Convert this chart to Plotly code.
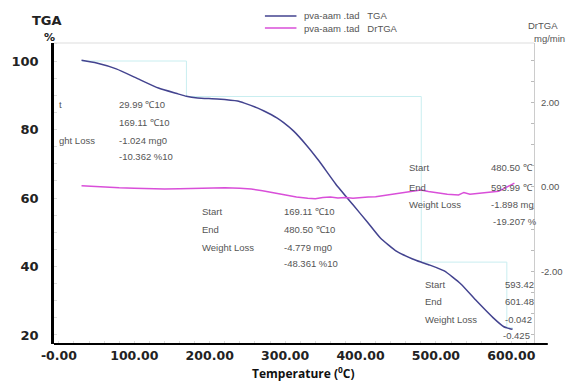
import plotly.graph_objects as go

# ---- data ----
tga_T = [30, 50, 76, 106, 132, 158, 169, 184, 210, 237, 246, 263, 272, 289, 298, 311, 328, 345,
         367, 390, 409, 426, 448, 469, 480, 492, 511, 533, 554, 576, 590, 594, 598, 601.5]
tga_V = [100.2, 99.4, 97.7, 94.7, 92.1, 90.4, 89.7, 89.2, 88.9, 88.3, 87.7, 86.3, 85.4, 83.4, 82.0,
         79.6, 75.5, 70.8, 64.1, 58.0, 53.0, 48.4, 44.4, 42.2, 41.3, 40.4, 38.7, 34.9, 29.9, 25.0,
         22.4, 22.07, 21.8, 21.65]

dr_T = [30, 45, 60, 80, 100, 120, 140, 160, 180, 200, 220, 240, 255, 270, 285, 300, 315, 330, 340,
        350, 360, 370, 380, 390, 400, 410, 420, 435, 450, 465, 480, 490, 500, 515, 530, 537, 545,
        555, 565, 575, 583, 590, 597, 604]
dr_V = [0.03, 0.01, -0.01, -0.02, -0.03, -0.04, -0.05, -0.04, -0.03, -0.02, -0.02, -0.03, -0.05,
        -0.09, -0.14, -0.19, -0.24, -0.27, -0.28, -0.25, -0.24, -0.26, -0.25, -0.27, -0.25, -0.24,
        -0.23, -0.19, -0.15, -0.10, -0.07, -0.11, -0.14, -0.17, -0.19, -0.13, -0.17, -0.15, -0.14,
        -0.12, -0.10, -0.04, 0.03, 0.09]

step_T = [29.99, 169.11, 480.50, 593.99, 601.48]
step_loss_pct = [10.362, 48.361, 19.207, 0.425]

series_names = ["pva-aam .tad\u00a0\u00a0 TGA", "pva-aam .tad\u00a0\u00a0 DrTGA"]
series_colors = ["#43438f", "#d94fd9"]

x_tickvals = [0, 100, 200, 300, 400, 500, 600]
x_ticktext = ["-0.00", "100.00", "200.00", "300.00", "400.00", "500.00", "600.00"]
y_tickvals = [20, 40, 60, 80, 100]
y_ticktext = ["20", "40", "60", "80", "100"]
y2_tickvals = [-2, 0, 2]
y2_ticktext = ["-2.00", "0.00", "2.00"]

# step (staircase) line built from start/end temperatures and losses
levels = [100.0]
for p in step_loss_pct:
    levels.append(levels[-1] - p)
stx, sty = [], []
for i in range(len(step_loss_pct)):
    stx += [step_T[i], step_T[i + 1], step_T[i + 1]]
    sty += [levels[i], levels[i], levels[i + 1]]

# ---- geometry ----
W, H = 575, 381
L, R, T, B = 54, 541, 43, 344
def px(x):
    return (x - L) / (R - L)
def py(y):
    return (B - y) / (B - T)

fig = go.Figure()
fig.add_trace(go.Scatter(x=stx, y=sty, mode="lines", line=dict(color="#c9eef0", width=1),
                         showlegend=False, hoverinfo="skip"))
fig.add_trace(go.Scatter(x=tga_T, y=tga_V, mode="lines", name=series_names[0], showlegend=False,
                         line=dict(color=series_colors[0], width=1.5, shape="spline", smoothing=0.5)))
fig.add_trace(go.Scatter(x=dr_T, y=dr_V, mode="lines", name=series_names[1], showlegend=False,
                         yaxis="y2", line=dict(color=series_colors[1], width=1.5)))

gray = "#555555"
small = dict(family="Liberation Sans, Arial", size=9.5, color=gray)
ann = []
def txt(x, y, s, font=small, xa="left"):
    ann.append(dict(x=px(x), y=py(y), xref="paper", yref="paper", text=s, showarrow=False,
                    xanchor=xa, yanchor="middle", font=font))

# block 1
txt(57, 104, "t"); txt(57, 140, "ght Loss")
txt(118, 104, "29.99 ℃10"); txt(118, 122, "169.11 ℃10")
txt(118, 140, "-1.024 mg0"); txt(118, 156, "-10.362 %10")
# block 2
txt(202, 211, "Start"); txt(202, 229, "End"); txt(202, 247, "Weight Loss")
txt(285, 211, "169.11 ℃10"); txt(285, 229, "480.50 ℃10")
txt(285, 247, "-4.779 mg0"); txt(285, 263, "-48.361 %10")
# block 3
txt(412, 167, "Start"); txt(412, 187, "End"); txt(412, 204, "Weight Loss")
txt(495, 167, "480.50 ℃"); txt(495, 187, "593.99 ℃")
txt(495, 204, "-1.898 mg"); txt(497, 221, "-19.207 %")
# block 4
txt(428, 284, "Start"); txt(428, 301, "End"); txt(428, 319, "Weight Loss")
txt(510, 284, "593.42"); txt(510, 301, "601.48")
txt(510, 319, "-0.042"); txt(508, 335, "-0.425")

boldf = dict(family="DejaVu Sans", size=13, color="#222222", weight="bold")
txt(47, 20, "TGA", font=boldf, xa="center")
txt(49, 37, "%", font=dict(family="DejaVu Sans", size=11, color="#222222", weight="bold"), xa="center")
txt(550, 25, "DrTGA", font=small, xa="center")
txt(557, 38, "mg/min", font=small, xa="center")
txt(307, 373, "Temperature (<sup>0</sup>C)",
    font=dict(family="Open Sans", size=12, color="#111111", weight="bold"), xa="center")

shapes = [
    dict(type="line", xref="paper", yref="paper", x0=0, x1=px(555), y0=0, y1=0,
         line=dict(color="black", width=2.2)),
    dict(type="line", xref="paper", yref="paper", x0=0, x1=1, y0=1, y1=1,
         line=dict(color="#dddddd", width=1)),
]

# legend (custom, compact like the reference)
for i, (nm, col) in enumerate(zip(series_names, series_colors)):
    yy = 16 + 12 * i
    shapes.append(dict(type="line", xref="paper", yref="paper", x0=px(268), x1=px(300),
                       y0=py(yy), y1=py(yy), line=dict(color=col, width=1.5)))
    txt(306, yy, nm)

fig.update_layout(
    width=W, height=H,
    margin=dict(l=L, r=W - R, t=T, b=H - B, pad=0),
    paper_bgcolor="white", plot_bgcolor="white",
    font=dict(family="Liberation Sans, Arial", size=9.5, color=gray),
    showlegend=False,
    xaxis=dict(range=[-6.5, 630], tickvals=x_tickvals, ticktext=x_ticktext,
               showgrid=False, zeroline=False, showline=False, ticks="",
               tickfont=dict(family="DejaVu Sans", size=12.5, color="#222222", weight="bold"),
               ticklabelstandoff=2,
               minor=dict(ticks="inside", ticklen=3, tickcolor="#dddddd", dtick=20)),
    yaxis=dict(range=[17.37, 105.26], tickvals=y_tickvals, ticktext=y_ticktext,
               showgrid=False, zeroline=False, showline=True, linecolor="black", linewidth=2.5,
               ticks="", ticklabelstandoff=10,
               tickfont=dict(family="DejaVu Sans", size=13, color="#222222", weight="bold"),
               minor=dict(ticks="inside", ticklen=3, tickcolor="#dddddd", dtick=5)),
    yaxis2=dict(range=[-3.72, 3.41], overlaying="y", side="right", tickvals=y2_tickvals,
                ticktext=y2_ticktext, showgrid=False, zeroline=False, showline=True,
                linecolor="#cccccc", linewidth=1, ticks="inside", ticklen=3, tickcolor="#bbbbbb",
                ticklabelstandoff=4, tickfont=dict(size=9.5, color=gray),
                minor=dict(ticks="inside", ticklen=3, tickcolor="#bbbbbb", dtick=0.5)),
    annotations=ann, shapes=shapes,
)

fig.write_html("out.html")
